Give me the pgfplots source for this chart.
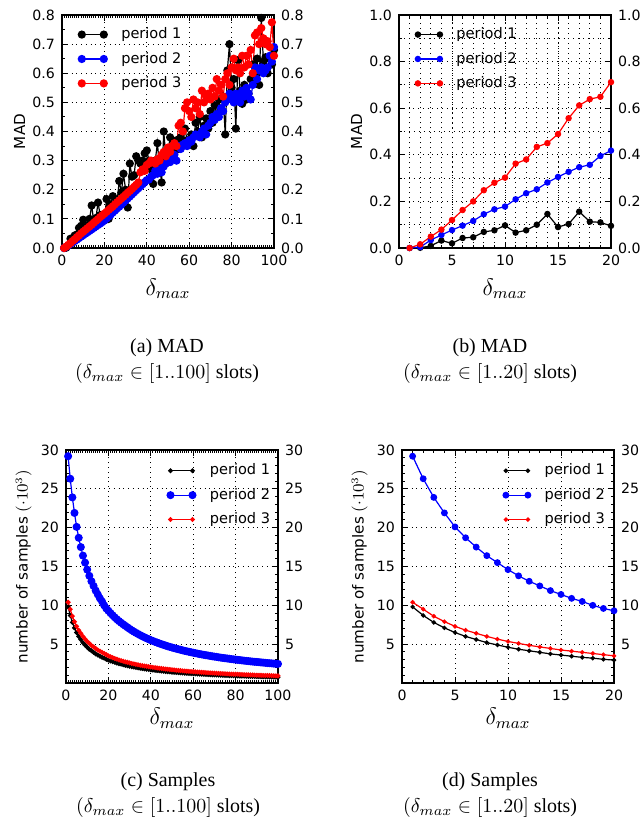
\documentclass[border=0pt]{standalone}
\usepackage{fontspec}
\setmainfont{Liberation Serif}
\newfontfamily\dv{DejaVu Sans}
\usepackage{pgfplots}
\usepackage{pgfplotstable}
\pgfplotsset{compat=1.18}
\newcommand\tickfont{\dv\fontsize{7.1}{8}\selectfont}
\newcommand\legfont{\dv\fontsize{7.3}{8}\selectfont}
\newcommand\labfont{\dv\fontsize{7.6}{9}\selectfont}
\newcommand\dlab{{\fontsize{12}{14}\selectfont$\delta_{max}$}}

\pgfplotstableread{
d p1 p2 p3
1 0.000 0.000 0.000
2 0.001 0.004 0.005
3 0.009 0.009 0.011
4 0.032 0.014 0.017
5 0.020 0.019 0.024
6 0.043 0.024 0.030
7 0.046 0.029 0.037
8 0.069 0.034 0.043
9 0.076 0.039 0.050
10 0.097 0.044 0.056
11 0.066 0.049 0.062
12 0.076 0.054 0.068
13 0.100 0.059 0.074
14 0.146 0.064 0.080
15 0.090 0.069 0.087
16 0.103 0.074 0.093
17 0.156 0.079 0.099
18 0.113 0.084 0.106
19 0.110 0.089 0.112
20 0.095 0.095 0.118
21 0.168 0.101 0.124
22 0.100 0.108 0.131
23 0.150 0.115 0.137
24 0.178 0.122 0.143
25 0.130 0.129 0.150
26 0.160 0.136 0.157
27 0.230 0.142 0.163
28 0.190 0.149 0.170
29 0.255 0.156 0.176
30 0.200 0.163 0.183
31 0.139 0.170 0.190
32 0.290 0.177 0.196
33 0.245 0.184 0.203
34 0.250 0.191 0.210
35 0.315 0.198 0.217
36 0.300 0.205 0.225
37 0.290 0.212 0.260
38 0.300 0.219 0.270
39 0.325 0.226 0.265
40 0.335 0.233 0.285
41 0.300 0.235 0.290
42 0.270 0.245 0.300
43 0.220 0.250 0.295
44 0.300 0.265 0.290
45 0.360 0.255 0.305
46 0.280 0.270 0.300
47 0.225 0.260 0.320
48 0.400 0.280 0.330
49 0.310 0.290 0.315
50 0.330 0.300 0.345
51 0.380 0.295 0.330
52 0.330 0.310 0.350
53 0.350 0.320 0.360
54 0.370 0.300 0.350
55 0.340 0.350 0.420
56 0.380 0.340 0.430
57 0.360 0.355 0.400
58 0.410 0.360 0.480
59 0.370 0.350 0.500
60 0.360 0.370 0.470
61 0.390 0.365 0.450
62 0.350 0.380 0.510
63 0.430 0.390 0.480
64 0.400 0.385 0.500
65 0.450 0.380 0.460
66 0.380 0.400 0.540
67 0.420 0.410 0.500
68 0.445 0.390 0.520
69 0.410 0.420 0.530
70 0.470 0.430 0.510
71 0.430 0.450 0.550
72 0.490 0.440 0.520
73 0.460 0.460 0.580
74 0.510 0.450 0.540
75 0.470 0.480 0.560
76 0.520 0.470 0.520
77 0.390 0.500 0.580
78 0.610 0.520 0.600
79 0.700 0.530 0.560
80 0.550 0.510 0.620
81 0.580 0.500 0.650
82 0.410 0.530 0.610
83 0.645 0.520 0.620
84 0.540 0.500 0.600
85 0.495 0.540 0.660
86 0.560 0.520 0.620
87 0.510 0.550 0.660
88 0.530 0.530 0.630
89 0.580 0.510 0.680
90 0.630 0.560 0.600
91 0.600 0.620 0.730
92 0.650 0.580 0.740
93 0.560 0.610 0.700
94 0.790 0.620 0.755
95 0.640 0.600 0.720
96 0.655 0.610 0.700
97 0.600 0.620 0.710
98 0.650 0.660 0.690
99 0.630 0.640 0.775
100 0.680 0.690 0.660
}\tabA

\pgfplotstableread{
d p1 p2 p3
1 0.000 0.000 0.000
2 0.001 0.004 0.016
3 0.009 0.034 0.049
4 0.032 0.056 0.079
5 0.020 0.077 0.120
6 0.043 0.096 0.163
7 0.046 0.116 0.200
8 0.069 0.145 0.248
9 0.076 0.166 0.280
10 0.097 0.178 0.302
11 0.066 0.209 0.362
12 0.076 0.235 0.380
13 0.100 0.252 0.434
14 0.146 0.281 0.450
15 0.090 0.305 0.489
16 0.103 0.327 0.557
17 0.156 0.347 0.612
18 0.113 0.357 0.639
19 0.110 0.395 0.649
20 0.095 0.418 0.712
}\tabB

\pgfplotstableread{
d s1 s2 s3
1 9.80 29.20 10.40
2 8.70 26.30 9.50
3 7.80 23.90 8.60
4 7.10 21.90 7.90
5 6.50 20.10 7.30
6 6.00 18.70 6.80
7 5.60 17.50 6.40
8 5.20 16.40 6.00
9 4.90 15.50 5.65
10 4.60 14.60 5.35
11 4.35 13.80 5.10
12 4.15 13.10 4.85
13 3.95 12.50 4.65
14 3.75 11.90 4.45
15 3.60 11.40 4.25
16 3.45 10.90 4.10
17 3.30 10.50 3.95
18 3.20 10.00 3.80
19 3.05 9.60 3.65
20 2.95 9.30 3.50
21 2.85 9.00 3.38
22 2.75 8.72 3.27
23 2.66 8.45 3.16
24 2.57 8.20 3.07
25 2.49 7.97 2.97
26 2.42 7.76 2.89
27 2.35 7.55 2.81
28 2.28 7.36 2.73
29 2.22 7.16 2.66
30 2.16 6.97 2.59
31 2.10 6.79 2.52
32 2.05 6.62 2.46
33 2.00 6.46 2.40
34 1.95 6.31 2.35
35 1.90 6.16 2.29
36 1.86 6.02 2.24
37 1.82 5.89 2.19
38 1.78 5.76 2.15
39 1.74 5.64 2.10
40 1.70 5.52 2.06
41 1.67 5.41 2.02
42 1.63 5.30 1.98
43 1.60 5.20 1.94
44 1.57 5.10 1.90
45 1.54 5.00 1.87
46 1.51 4.91 1.83
47 1.48 4.82 1.80
48 1.46 4.73 1.77
49 1.43 4.65 1.74
50 1.40 4.57 1.71
51 1.38 4.49 1.68
52 1.36 4.42 1.65
53 1.33 4.35 1.62
54 1.31 4.28 1.60
55 1.29 4.21 1.57
56 1.27 4.14 1.55
57 1.25 4.08 1.52
58 1.23 4.02 1.50
59 1.21 3.96 1.48
60 1.20 3.90 1.46
61 1.18 3.84 1.44
62 1.16 3.79 1.42
63 1.14 3.73 1.40
64 1.13 3.68 1.38
65 1.11 3.63 1.36
66 1.10 3.58 1.34
67 1.08 3.54 1.32
68 1.07 3.49 1.31
69 1.05 3.44 1.29
70 1.04 3.40 1.27
71 1.03 3.36 1.26
72 1.01 3.31 1.24
73 1.00 3.27 1.23
74 0.99 3.23 1.21
75 0.98 3.19 1.20
76 0.97 3.16 1.18
77 0.95 3.12 1.17
78 0.94 3.08 1.15
79 0.93 3.05 1.14
80 0.92 3.01 1.13
81 0.91 2.98 1.12
82 0.90 2.95 1.10
83 0.89 2.91 1.09
84 0.88 2.88 1.08
85 0.87 2.85 1.07
86 0.86 2.82 1.06
87 0.85 2.79 1.05
88 0.84 2.76 1.04
89 0.84 2.73 1.02
90 0.83 2.71 1.01
91 0.82 2.68 1.00
92 0.81 2.65 0.99
93 0.80 2.63 0.98
94 0.79 2.60 0.97
95 0.79 2.57 0.97
96 0.78 2.55 0.96
97 0.77 2.53 0.95
98 0.76 2.50 0.94
99 0.76 2.48 0.93
100 0.75 2.46 0.92
}\tabC

\pgfplotsset{
  base/.style={
    scale only axis, width=106bp, height=116.5bp, anchor=south west,
    axis line style={line width=0.8bp},
    tick align=inside, tick pos=both,
    major tick length=3bp, minor tick length=1.5bp,
    tick style={black, line width=0.5bp},
    ticklabel style={font=\tickfont},
    /pgf/number format/assume math mode=true,
    grid style={dotted, black, line width=0.5bp},
    xlabel style={at={(axis description cs:0.5,-0.175)}, anchor=center},
    ylabel style={at={(axis description cs:-0.2,0.5)}, anchor=center, font=\labfont},
    legend style={draw=none, fill=none, font=\legfont, anchor=north west,
      row sep=1.2bp, inner sep=0pt,
      /tikz/every odd column/.append style={column sep=5bp}},
    legend cell align=left,
    legend image code/.code={\draw[##1] plot coordinates {(0bp,0bp) (11bp,0bp)};},
  },
  rlab/.style={
    scale only axis, width=106bp, height=116.5bp, anchor=south west,
    hide x axis, axis y line*=right, y axis line style={draw=none},
    ytick style={draw=none},
    ticklabel style={font=\tickfont},
    /pgf/number format/assume math mode=true,
  },
  yone/.style={yticklabel style={/pgf/number format/.cd, fixed, fixed zerofill, precision=1}},
}

\begin{document}
\begin{tikzpicture}
% ---------- (a)
\begin{axis}[base, at={(31bp,-124bp)},
  xmin=0, xmax=100, ymin=0, ymax=0.8,
  xtick={0,20,...,100}, minor xtick={0,1,...,100},
  ytick={0,0.1,...,0.81}, minor ytick={0.05,0.15,...,0.8},
  yone, grid=major,
  xlabel={\dlab}, ylabel={MAD},
  legend style={at={(axis description cs:0.075,0.965)}}]
\addplot[black, line width=0.6bp, mark=*, mark size=1.75bp] table[x=d,y=p1] {\tabA};
\addlegendentry{period 1}
\addplot[blue, line width=0.6bp, mark=*, mark size=1.75bp] table[x=d,y=p2] {\tabA};
\addlegendentry{period 2}
\addplot[red, line width=0.6bp, mark=*, mark size=1.75bp] table[x=d,y=p3] {\tabA};
\addlegendentry{period 3}
\end{axis}
\begin{axis}[rlab, at={(31bp,-124bp)}, xmin=0, xmax=100, ymin=0, ymax=0.8,
  ytick={0,0.1,...,0.81}, yone]
\end{axis}
% ---------- (b)
\begin{axis}[base, at={(199.5bp,-124bp)},
  xmin=0, xmax=20, ymin=0, ymax=1,
  xtick={0,5,...,20}, minor xtick={0,1,...,20},
  ytick={0,0.2,...,1.01}, minor ytick={0.1,0.3,...,1},
  yone, grid=both, minor grid style={dotted, black, line width=0.5bp},
  xlabel={\dlab}, ylabel={MAD},
  legend style={at={(axis description cs:0.075,0.965)}}]
\addplot[black, line width=0.6bp, mark=*, mark size=1.3bp] table[x=d,y=p1] {\tabB};
\addlegendentry{period 1}
\addplot[blue, line width=0.6bp, mark=*, mark size=1.3bp] table[x=d,y=p2] {\tabB};
\addlegendentry{period 2}
\addplot[red, line width=0.6bp, mark=*, mark size=1.3bp] table[x=d,y=p3] {\tabB};
\addlegendentry{period 3}
\end{axis}
\begin{axis}[rlab, at={(199.5bp,-124bp)}, xmin=0, xmax=20, ymin=0, ymax=1,
  ytick={0,0.2,...,1.01}, yone]
\end{axis}
% ---------- (c)
\begin{axis}[base, at={(33bp,-341.5bp)},
  xmin=0, xmax=100, ymin=0, ymax=30,
  xtick={0,20,...,100}, minor xtick={0,1,...,100},
  ytick={5,10,...,30}, minor ytick={0,1,...,30},
  grid=major,
  xlabel={\dlab}, ylabel={number of samples $(\cdot 10^3)$},
  xlabel style={at={(axis description cs:0.5,-0.15)}},
  legend style={at={(axis description cs:0.475,0.96)}}]
\addplot[black, line width=0.6bp, mark=*, mark size=0.9bp] table[x=d,y=s1] {\tabC};
\addlegendentry{period 1}
\addplot[blue, line width=0.6bp, mark=*, mark size=1.7bp] table[x=d,y=s2] {\tabC};
\addlegendentry{period 2}
\addplot[red, line width=0.6bp, mark=*, mark size=0.9bp] table[x=d,y=s3] {\tabC};
\addlegendentry{period 3}
\end{axis}
\begin{axis}[rlab, at={(33bp,-341.5bp)}, xmin=0, xmax=100, ymin=0, ymax=30,
  ytick={5,10,...,30}]
\end{axis}
% ---------- (d)
\begin{axis}[base, at={(201bp,-341.5bp)},
  xmin=0, xmax=20, ymin=0, ymax=30,
  xtick={0,5,...,20}, minor xtick={0,1,...,20},
  ytick={5,10,...,30}, minor ytick={0,1,...,30},
  grid=major,
  xlabel={\dlab}, ylabel={number of samples $(\cdot 10^3)$},
  xlabel style={at={(axis description cs:0.5,-0.15)}},
  legend style={at={(axis description cs:0.475,0.96)}}]
\addplot[black, line width=0.6bp, mark=*, mark size=0.8bp, restrict x to domain=1:20] table[x=d,y=s1] {\tabC};
\addlegendentry{period 1}
\addplot[blue, line width=0.6bp, mark=*, mark size=1.4bp, restrict x to domain=1:20] table[x=d,y=s2] {\tabC};
\addlegendentry{period 2}
\addplot[red, line width=0.6bp, mark=*, mark size=0.8bp, restrict x to domain=1:20] table[x=d,y=s3] {\tabC};
\addlegendentry{period 3}
\end{axis}
\begin{axis}[rlab, at={(201bp,-341.5bp)}, xmin=0, xmax=20, ymin=0, ymax=30,
  ytick={5,10,...,30}]
\end{axis}
% ---------- captions
\node[align=center, font=\fontsize{10}{13}\selectfont] at (83.5bp,-180.5bp) {(a) MAD\\\((\delta_{max} \in [1..100]\) slots)};
\node[align=center, font=\fontsize{10}{13}\selectfont] at (245bp,-180.5bp) {(b) MAD\\\((\delta_{max} \in [1..20]\) slots)};
\node[align=center, font=\fontsize{10}{13}\selectfont] at (84bp,-397.75bp) {(c) Samples\\\((\delta_{max} \in [1..100]\) slots)};
\node[align=center, font=\fontsize{10}{13}\selectfont] at (245bp,-397.75bp) {(d) Samples\\\((\delta_{max} \in [1..20]\) slots)};
\pgfresetboundingbox
\path (0bp,0bp) rectangle (320.5bp,-412.5bp);
\end{tikzpicture}
\end{document}
